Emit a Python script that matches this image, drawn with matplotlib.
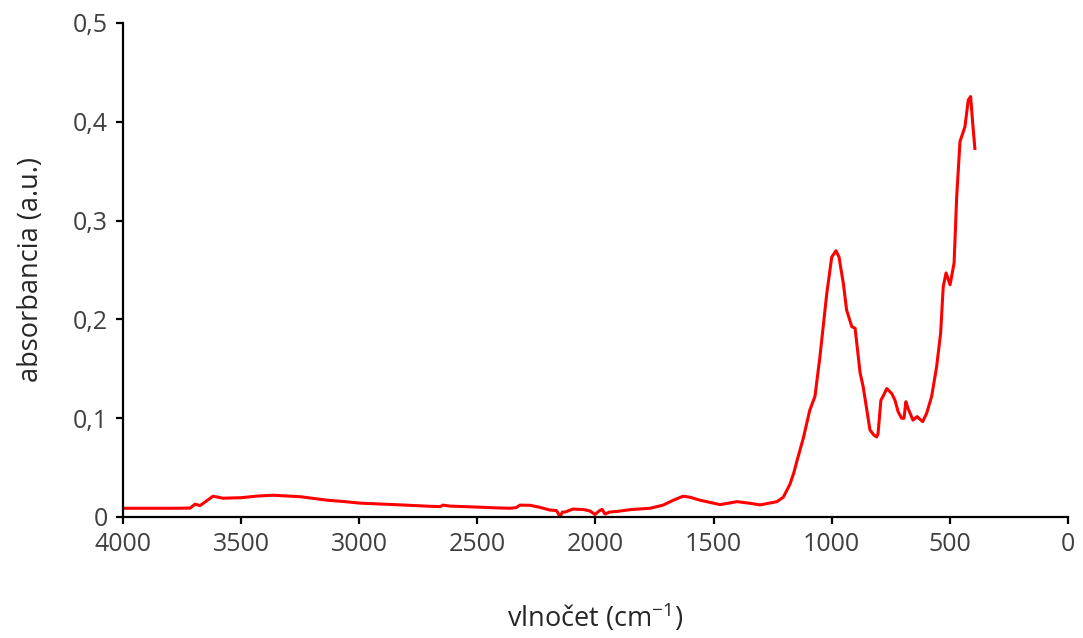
import matplotlib
matplotlib.use("Agg")
import matplotlib.pyplot as plt
from matplotlib.ticker import FuncFormatter

plt.rcParams['font.family'] = ['Open Sans', 'DejaVu Sans']
plt.rcParams['mathtext.fontset'] = 'custom'
plt.rcParams['mathtext.rm'] = 'Open Sans'

# spectrum (wavenumber, absorbance)
wavenumber = [4000, 3900, 3800, 3716, 3695, 3674, 3619, 3577, 3500, 3430, 3365, 3250,
              3136, 3060, 2997, 2850, 2700, 2658, 2645, 2616, 2500, 2420, 2362, 2335,
              2320, 2277, 2240, 2193, 2165, 2150, 2140, 2129, 2095, 2050, 2023, 2002,
              1985, 1972, 1960, 1940, 1909, 1850, 1769, 1714, 1670, 1629, 1600, 1558,
              1473, 1401, 1350, 1303, 1232, 1205, 1190, 1177, 1160, 1148, 1120, 1093,
              1071, 1050, 1021, 1000, 982, 969, 950, 937, 915, 901, 880, 867, 838,
              822, 810, 804, 792, 783, 767, 746, 732, 719, 704, 694, 686, 677, 656,
              639, 615, 598, 577, 556, 539, 528, 516, 499, 482, 471, 457, 436, 422,
              412, 403, 394]
absorbance = [0.0088, 0.0088, 0.0088, 0.0090, 0.0130, 0.0115, 0.0210, 0.0190, 0.0195, 0.0212, 0.0220, 0.0205,
              0.0170, 0.0155, 0.0140, 0.0125, 0.0108, 0.0105, 0.0120, 0.0110, 0.0100, 0.0092, 0.0088, 0.0095,
              0.0120, 0.0118, 0.0100, 0.0070, 0.0065, 0.0003, 0.0050, 0.0050, 0.0080, 0.0075, 0.0060, 0.0025,
              0.0060, 0.0077, 0.0030, 0.0050, 0.0056, 0.0075, 0.0088, 0.0120, 0.0170, 0.0210, 0.0200, 0.0170,
              0.0125, 0.0155, 0.0140, 0.0122, 0.0155, 0.0200, 0.0270, 0.0330, 0.0450, 0.0560, 0.0800, 0.1080,
              0.1220, 0.1620, 0.2260, 0.2630, 0.2695, 0.2630, 0.2350, 0.2095, 0.1926, 0.1910, 0.1460, 0.1320, 0.0880,
              0.0830, 0.0810, 0.0840, 0.1180, 0.1220, 0.1300, 0.1250, 0.1180, 0.1066, 0.0999, 0.0999, 0.1167, 0.1100, 0.0980,
              0.1016, 0.0965, 0.1050, 0.1220, 0.1520, 0.1860, 0.2330, 0.2470, 0.2350, 0.2570, 0.3240, 0.3800, 0.3950, 0.4220,
              0.4255, 0.3980, 0.3730]

x_ticks = [4000, 3500, 3000, 2500, 2000, 1500, 1000, 500, 0]
y_ticks = [0, 0.1, 0.2, 0.3, 0.4, 0.5]

fig = plt.figure(figsize=(10.83, 6.38), dpi=100)
ax = fig.add_axes([0.1136, 0.1897, 0.8725, 0.7743])

ax.plot(wavenumber, absorbance, color='#ff0000', lw=2.2, solid_joinstyle='round')

ax.set_xlim(4000, 0)
ax.set_ylim(0, 0.5)
ax.set_xticks(x_ticks)
ax.set_yticks(y_ticks)


def comma(v, pos):
    s = f"{v:.1f}".rstrip('0').rstrip('.') if v != 0 else "0"
    return s.replace('.', ',')


ax.xaxis.set_major_formatter(FuncFormatter(lambda v, p: f"{int(v)}"))
ax.yaxis.set_major_formatter(FuncFormatter(comma))

for side in ['top', 'right']:
    ax.spines[side].set_visible(False)
for side in ['left', 'bottom']:
    ax.spines[side].set_linewidth(1.6)
    ax.spines[side].set_color('black')

ax.tick_params(direction='out', length=5, width=1.6, color='black',
               labelsize=18, labelcolor='#404040', pad=6)

ax.set_xlabel('vlnočet (cm$^{\\mathregular{-1}}$)', fontsize=19.5, color='#262626', labelpad=32)
ax.set_ylabel('absorbancia (a.u.)', fontsize=19.5, color='#262626', labelpad=20)

fig.savefig('out.png', dpi=100)
